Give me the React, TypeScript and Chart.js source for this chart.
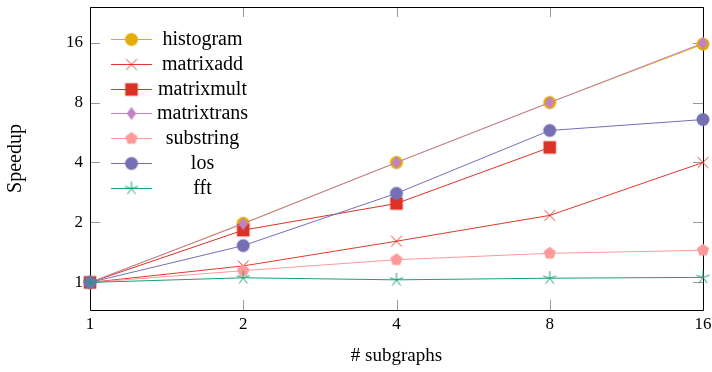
import React, { useEffect, useRef } from 'react';
import { Chart, registerables } from 'chart.js';

Chart.register(...registerables);

const subgraphs = [1, 2, 4, 8, 16];
const histogram = [1, 1.98, 4.0, 8.0, 15.7];
const matrixadd = [1, 1.21, 1.61, 2.17, 4.0];
const matrixmult = [1, 1.83, 2.49, 4.76];
const matrixtrans = [1, 1.97, 4.0, 8.0, 15.9];
const substring = [1, 1.145, 1.3, 1.4, 1.45];
const los = [1, 1.53, 2.8, 5.79, 6.57];
const fft = [1, 1.055, 1.03, 1.05, 1.06];

const xTicks = [1, 2, 4, 8, 16];
const yTicks = [1, 2, 4, 8, 16];

const seriesNames = ['histogram', 'matrixadd', 'matrixmult', 'matrixtrans', 'substring', 'los', 'fft'];
const seriesValues = [histogram, matrixadd, matrixmult, matrixtrans, substring, los, fft];
const seriesColors = ['#E6AB02', '#E0382C', '#DC3125', '#BF82C2', '#FB9A99', '#7570B3', '#1B9E77'];
const seriesMarkers = ['circle', 'x', 'square', 'diamond', 'pentagon', 'circle', 'star'];

const FONT = "'Liberation Serif', 'DejaVu Serif', serif";

function makeMarker(kind: string, color: string): HTMLCanvasElement {
  const s = 20;
  const c = document.createElement('canvas');
  c.width = s;
  c.height = s;
  const ctx = c.getContext('2d')!;
  ctx.translate(s / 2, s / 2);
  ctx.fillStyle = color;
  ctx.strokeStyle = color;
  ctx.lineWidth = 1;
  ctx.beginPath();
  if (kind === 'circle') {
    ctx.arc(0, 0, 6.5, 0, Math.PI * 2);
    ctx.fill();
  } else if (kind === 'x') {
    const r = 5.4;
    ctx.moveTo(-r, -r);
    ctx.lineTo(r, r);
    ctx.moveTo(-r, r);
    ctx.lineTo(r, -r);
    ctx.stroke();
  } else if (kind === 'square') {
    ctx.rect(-6.3, -6.3, 12.6, 12.6);
    ctx.fill();
  } else if (kind === 'diamond') {
    ctx.moveTo(0, -6.5);
    ctx.lineTo(4.7, 0);
    ctx.lineTo(0, 6.5);
    ctx.lineTo(-4.7, 0);
    ctx.closePath();
    ctx.fill();
  } else if (kind === 'pentagon') {
    for (let i = 0; i < 5; i++) {
      const a = -Math.PI / 2 + (i * 2 * Math.PI) / 5;
      const px = Math.cos(a) * 6.4;
      const py = Math.sin(a) * 6.4;
      if (i === 0) ctx.moveTo(px, py);
      else ctx.lineTo(px, py);
    }
    ctx.closePath();
    ctx.fill();
  } else if (kind === 'star') {
    for (let i = 0; i < 5; i++) {
      const a = -Math.PI / 2 + (i * 2 * Math.PI) / 5;
      ctx.moveTo(0, 0);
      ctx.lineTo(Math.cos(a) * 7, Math.sin(a) * 7);
    }
    ctx.stroke();
  }
  return c;
}

const frameAndLegend = {
  id: 'frameAndLegend',
  beforeDatasetsDraw(chart: any) {
    const { ctx, chartArea } = chart;
    const { left, right, top, bottom } = chartArea;
    const xs = chart.scales.x;
    const ys = chart.scales.y;
    ctx.save();
    ctx.strokeStyle = '#9a9a9a';
    ctx.lineWidth = 1;
    ctx.beginPath();
    const L = 10;
    xTicks.forEach((v) => {
      const px = Math.round(xs.getPixelForValue(v)) + 0.5;
      ctx.moveTo(px, bottom);
      ctx.lineTo(px, bottom - L);
      ctx.moveTo(px, top);
      ctx.lineTo(px, top + L);
    });
    yTicks.forEach((v) => {
      const py = Math.round(ys.getPixelForValue(v)) + 0.5;
      ctx.moveTo(left, py);
      ctx.lineTo(left + L, py);
      ctx.moveTo(right, py);
      ctx.lineTo(right - L, py);
    });
    ctx.stroke();
    ctx.strokeStyle = '#000';
    ctx.beginPath();
    ctx.rect(left + 0.5, top + 0.5, right - left, bottom - top);
    ctx.stroke();
    ctx.restore();
  },
  afterDraw(chart: any) {
    const { ctx, chartArea } = chart;
    ctx.save();
    chart.data.datasets.forEach((ds: any, i: number) => {
      const y = Math.round(chartArea.top + 32 + i * 24.75);
      const x0 = chartArea.left + 21;
      const x1 = chartArea.left + 62;
      ctx.strokeStyle = ds.borderColor;
      ctx.lineWidth = 1;
      ctx.beginPath();
      ctx.moveTo(x0, y + 0.5);
      ctx.lineTo(x1, y + 0.5);
      ctx.stroke();
      const img = ds.pointStyle as HTMLCanvasElement;
      ctx.drawImage(img, (x0 + x1) / 2 - img.width / 2, y + 0.5 - img.height / 2);
      ctx.fillStyle = '#000';
      ctx.font = `20px ${FONT}`;
      ctx.textAlign = 'center';
      ctx.textBaseline = 'middle';
      ctx.fillText(ds.label, chartArea.left + 112.5, y + 1);
    });
    ctx.restore();
  },
};

export default function App() {
  const ref = useRef<HTMLCanvasElement>(null);
  useEffect(() => {
    document.body.style.margin = '0';
    const datasets = seriesNames.map((name, i) => ({
      label: name,
      data: seriesValues[i].map((v, j) => ({ x: subgraphs[j], y: v })),
      borderColor: seriesColors[i],
      backgroundColor: seriesColors[i],
      borderWidth: 1,
      pointStyle: makeMarker(seriesMarkers[i], seriesColors[i]),
      pointRadius: 6,
      pointHoverRadius: 6,
      tension: 0,
      clip: false as any,
      order: -i,
    }));
    const chart = new Chart(ref.current!, {
      type: 'line',
      data: { datasets },
      options: {
        animation: false,
        responsive: false,
        events: [],
        layout: { padding: { top: 6, right: 9, left: 0, bottom: 0 } },
        plugins: { legend: { display: false }, tooltip: { enabled: false } },
        scales: {
          x: {
            type: 'logarithmic',
            min: 1,
            max: 16,
            bounds: 'data',
            afterBuildTicks: (s: any) => {
              s.ticks = xTicks.map((v) => ({ value: v }));
            },
            afterFit: (s: any) => {
              s.height = 62;
              s.paddingLeft = 0;
              s.paddingRight = 0;
            },
            grid: { display: false, drawTicks: false },
            border: { display: false },
            ticks: {
              callback: (v: any) => String(v),
              font: { family: FONT, size: 17 },
              color: '#000',
              padding: 4,
              maxRotation: 0,
              autoSkip: false,
            },
            title: {
              display: true,
              text: '# subgraphs',
              font: { family: FONT, size: 19 },
              color: '#000',
              padding: { top: 0, bottom: 5 },
            },
          },
          y: {
            type: 'logarithmic',
            min: 0.727,
            max: 24.13,
            bounds: 'data',
            afterBuildTicks: (s: any) => {
              s.ticks = yTicks.map((v) => ({ value: v }));
            },
            afterFit: (s: any) => {
              s.width = 90;
              s.paddingTop = 0;
              s.paddingBottom = 0;
            },
            grid: { display: false, drawTicks: false },
            border: { display: false },
            ticks: {
              callback: (v: any) => String(v),
              font: { family: FONT, size: 17 },
              color: '#000',
              padding: 7,
              autoSkip: false,
            },
            title: {
              display: true,
              text: 'Speedup',
              font: { family: FONT, size: 20 },
              color: '#000',
              padding: { top: 4, bottom: 0 },
            },
          },
        },
      },
      plugins: [frameAndLegend],
    });
    return () => chart.destroy();
  }, []);
  return (
    <div style={{ position: 'absolute', left: 0, top: 0, width: 712, height: 372 }}>
      <canvas ref={ref} width={712} height={372} style={{ width: 712, height: 372 }} />
    </div>
  );
}
